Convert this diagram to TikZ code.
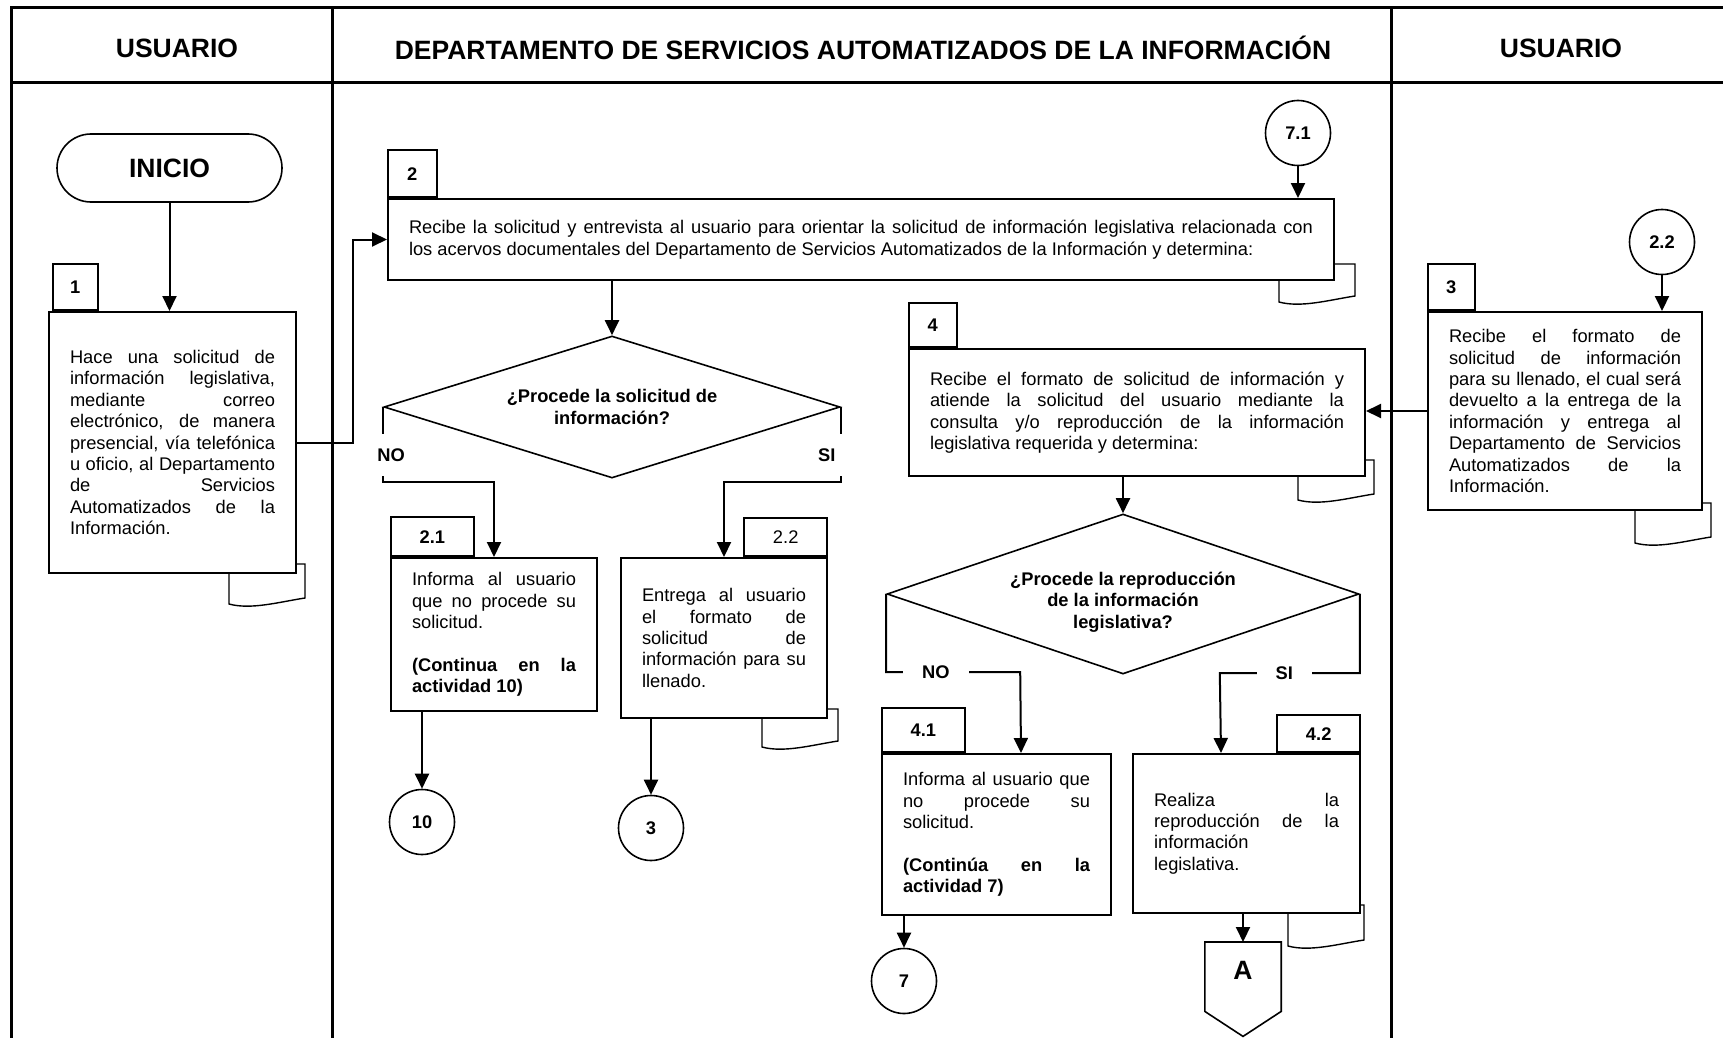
\documentclass[tikz,border=0pt]{standalone}
\usepackage{fontspec}
\setmainfont{Liberation Sans}
\usetikzlibrary{shapes.geometric,arrows.meta}
\newcommand\txtfont{\fontsize{18.3pt}{21.4pt}\selectfont\tolerance=10000\hyphenpenalty=10000\relax}
\newcommand\headfont{\fontsize{26.5pt}{30pt}\selectfont\bfseries}
\newcommand\doctab[4]{\draw[tabline] ([xshift=#4pt-68pt]#1.south east) -- ++(0,#3) .. controls +(22,6) and +(-26,4) .. ++(76,-6) -- ([xshift=#4pt+8pt,yshift=#2pt]#1.south east) -- ([yshift=#2pt]#1.south east);}
\tikzset{
  frame/.style={line width=3pt},
  head/.style={font=\headfont},
  term/.style={draw, rounded corners=34pt, line width=1.6pt, minimum width=225pt, minimum height=68pt, font=\headfont},
  act/.style={draw, line width=2pt, fill=white, inner xsep=21pt, inner ysep=0pt, align=justify, font=\txtfont, anchor=north west},
  numbox/.style={draw, line width=1.6pt, fill=white, minimum width=47pt, minimum height=46pt, inner sep=0pt, font=\txtfont\bfseries},
  numwide/.style={numbox, minimum width=83pt, minimum height=39pt},
  conn/.style={circle, draw, line width=1.6pt, minimum size=65pt, inner sep=0pt, font=\txtfont\bfseries},
  decision/.style={diamond, draw, line width=1.6pt, inner sep=0pt, align=center, font=\txtfont\bfseries},
  qtext/.style={align=center, inner sep=0pt, font=\txtfont\bfseries},
  arr/.style={-{Triangle[width=14pt,length=15pt]}, line width=2pt},
  vlab/.style={fill=white, font=\txtfont\bfseries, inner ysep=15pt},
  hlab/.style={fill=white, font=\txtfont\bfseries, inner xsep=19pt, inner ysep=1pt},
  tabline/.style={line width=1.4pt}
}
\begin{document}
\begin{tikzpicture}[x=1pt,y=-1pt]
\useasboundingbox (0,0) rectangle (1723,1038);
\fill[white] (0,0) rectangle (1723,1038);

\draw[frame] (11,1040) -- (11,8) -- (1725,8);
\draw[frame] (11,83) -- (1725,83);
\draw[frame] (332,8) -- (332,1040);
\draw[frame] (1391,8) -- (1391,1040);
\node[head] (h1) at (177,48) {USUARIO};
\node[head] (h2) at (863,48) {DEPARTAMENTO DE SERVICIOS AUTOMATIZADOS DE LA INFORMACIÓN};
\node[head] (h3) at (1561,48) {USUARIO};

\node[term] (inicio) at (169.5,168) {INICIO};
\node[act, text width=205pt, minimum height=261pt] (b1) at (48,311) {Hace una solicitud de\linebreak información legislativa,\linebreak mediante correo\linebreak electrónico, de manera\linebreak presencial, vía telefónica\linebreak u oficio, al Departamento\linebreak de Servicios\linebreak Automatizados de la\linebreak Información.};
\node[numbox, minimum width=45pt, anchor=south west] (n1) at ([xshift=4pt]b1.north west) {1};

\node[act, text width=904pt, minimum height=81pt] (b2) at (387,198) {Recibe la solicitud y entrevista al usuario para orientar la solicitud de información legislativa relacionada con\linebreak los acervos documentales del Departamento de Servicios Automatizados de la Información y determina:};
\node[numbox, minimum width=49pt, minimum height=47pt, anchor=south west] (n2) at (b2.north west) {2};
\node[conn] (c71) at (1298,133) {7.1};

\node[decision, minimum width=456pt, minimum height=142pt, aspect=3.2] (d1) at (612,407) {¿Procede la solicitud de\\información?};

\node[act, text width=164pt, minimum height=153pt] (b21) at (390,557) {Informa al usuario\linebreak que no procede su\linebreak solicitud.\par\vspace{21.4pt}\textbf{(Continua en la\linebreak actividad 10)}};
\node[numwide, anchor=south west] (n21) at (b21.north west) {2.1};
\node[act, text width=164pt, minimum height=160pt] (b22) at (620,557) {Entrega al usuario\linebreak el formato de\linebreak solicitud de\linebreak información para su\linebreak llenado.};
\node[numwide, minimum height=38pt, font=\txtfont, anchor=south east] (n22) at (b22.north east) {2.2};
\node[conn] (c10) at (422,822) {10};
\node[conn] (c3) at (651,828) {3};

\node[act, text width=414pt, minimum height=127pt] (b4) at (908,348) {Recibe el formato de solicitud de información y\linebreak atiende la solicitud del usuario mediante la\linebreak consulta y/o reproducción de la información\linebreak legislativa requerida y determina:};
\node[numbox, minimum width=48pt, minimum height=44pt, anchor=south west] (n4) at (b4.north west) {4};

\node[decision, minimum width=472pt, minimum height=160pt, aspect=2.95] (d2) at (1123,594) {};
\node[qtext] (q2) at ([yshift=-8pt]d2.center) {¿Procede la reproducción\\de la información\\legislativa?};

\node[act, text width=187pt, minimum height=161pt] (b41) at (881,753) {Informa al usuario que\linebreak no procede su\linebreak solicitud.\par\vspace{21.4pt}\textbf{(Continúa en la\linebreak actividad 7)}};
\node[numwide, minimum height=44pt, anchor=south west] (n41) at (b41.north west) {4.1};
\node[act, text width=185pt, minimum height=159pt] (b42) at (1132,753) {Realiza la\linebreak reproducción de la\linebreak información\linebreak legislativa.};
\node[numwide, minimum height=37pt, anchor=south east] (n42) at (b42.north east) {4.2};
\node[conn] (c7) at (904,981) {7};
\node[minimum width=76pt, minimum height=56pt, inner sep=0pt, font=\headfont, anchor=north] (pA) at (1243,942) {A};
\draw[line width=1.6pt] (pA.north west) -- (pA.north east) -- ([yshift=-13pt]pA.south east) -- ([yshift=-38pt]pA.south) -- ([yshift=-13pt]pA.south west) -- cycle;

\node[act, text width=232pt, minimum height=198pt] (b3) at (1427,311) {Recibe el formato de\linebreak solicitud de información\linebreak para su llenado, el cual será\linebreak devuelto a la entrega de la\linebreak información y entrega al\linebreak Departamento de Servicios\linebreak Automatizados de la\linebreak Información.};
\node[numbox, anchor=south west] (n3) at (b3.north west) {3};
\node[conn] (c22) at (1662,242) {2.2};

\doctab{b1}{10}{30}{0}
\doctab{b2}{17}{21}{12}
\doctab{b22}{10}{28}{2}
\doctab{b4}{17}{23}{0}
\doctab{b42}{9}{32}{-5}
\doctab{b3}{8}{32}{0}

\draw[arr] (inicio) -- (inicio |- b1.north);
\draw[arr] (b1.east) -- ++(56,0) |- (b2.west);
\draw[arr] (c71) -- (c71 |- b2.north);
\draw[arr] (d1 |- b2.south) -- (d1.north);
\draw[arr] (d1.west) -- ++(0,75) node[vlab, pos=0.64, xshift=8pt, inner xsep=10pt] {NO} -| (b21.north);
\draw[arr] (d1.east) -- ++(0,75) node[vlab, pos=0.64, xshift=-14pt, inner xsep=15pt] {SI} -| (b22.north);
\draw[arr] (c10 |- b21.south) -- (c10.north);
\draw[arr] (c3 |- b22.south) -- (c3.north);
\draw[arr] (c22) -- (c22 |- b3.north);
\draw[arr] (b3.west) -- (b3.west -| b4.east);
\draw[arr] (d2 |- b4.south) -- (d2.north);
\draw[arr] (d2.west) -- ++(0,78) -- node[hlab, pos=0.37] {NO} ++(134,0) -- ([xshift=140pt]b41.north west);
\draw[arr] (d2.east) -- ++(0,79) -- node[hlab, pos=0.54] {SI} ++(-140,0) -- ([xshift=-140pt]b42.north east);
\draw[arr] (c7 |- b41.south) -- (c7.north);
\draw[arr] (pA |- b42.south) -- (pA.north);
\end{tikzpicture}
\end{document}
